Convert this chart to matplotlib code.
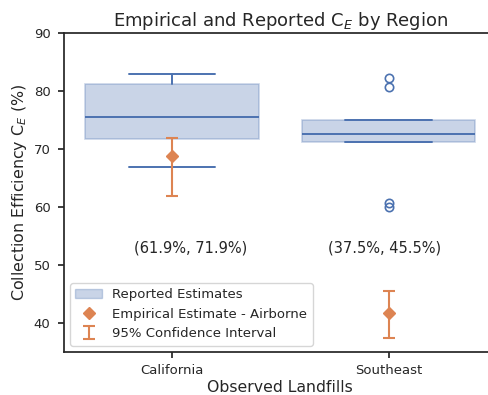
import matplotlib
matplotlib.use("Agg")
import matplotlib.pyplot as plt
from matplotlib.patches import Patch
import seaborn as sns
import numpy as np

sns.set_theme(style="ticks", palette="deep")
plt.rcParams["font.family"] = ["DejaVu Sans"]

# reported estimates (box summary)
regions = ["California", "Southeast"]
q1 = [71.7, 71.3]
median = [75.5, 72.6]
q3 = [81.2, 75.0]
whisker_low = [67.0, 71.3]
whisker_high = [82.9, 75.0]
fliers = [[], [82.2, 80.75, 60.8, 60.1]]

# empirical airborne estimates with 95% CI
empirical = [68.75, 41.8]
ci_low = [61.9, 37.5]
ci_high = [71.9, 45.5]

blue = sns.color_palette("deep")[0]
orange = sns.color_palette("deep")[1]

fig = plt.figure(figsize=(4.89, 3.95), dpi=100)
ax = fig.add_axes([0.13, 0.108, 0.886, 0.808])

stats = []
for i, name in enumerate(regions):
    stats.append(dict(label=name, q1=q1[i], med=median[i], q3=q3[i],
                      whislo=whisker_low[i], whishi=whisker_high[i],
                      fliers=fliers[i]))

pos = np.arange(len(regions))
bp = ax.bxp(stats, positions=pos, widths=0.8, patch_artist=True,
            showfliers=True,
            boxprops=dict(facecolor=blue, edgecolor=blue, linewidth=1.2),
            medianprops=dict(color=blue, linewidth=1.4),
            whiskerprops=dict(color=blue, linewidth=1.4),
            capprops=dict(color=blue, linewidth=1.4),
            flierprops=dict(marker="o", markerfacecolor="none",
                            markeredgecolor=blue, markersize=6,
                            markeredgewidth=1.2))
for box in bp["boxes"]:
    box.set_alpha(0.3)

emp = np.array(empirical)
yerr = np.vstack([emp - np.array(ci_low), np.array(ci_high) - emp])
ci = ax.errorbar(pos, emp, yerr=yerr, fmt="none", ecolor=orange,
                 elinewidth=1.5, capsize=4, capthick=1.5, zorder=4)
dots, = ax.plot(pos, emp, "D", color=orange, markersize=6.5, zorder=5,
                linestyle="none")

# CI labels
text_offsets = [0.085, -0.02]
for i in range(len(regions)):
    ax.text(pos[i] + text_offsets[i], 52.9,
            f"({ci_low[i]:.1f}%, {ci_high[i]:.1f}%)",
            ha="center", va="center", fontsize=10.5, color="#262626")

ax.set_xlim(-0.5, 1.5)
ax.set_ylim(35, 90)
ax.set_yticks([40, 50, 60, 70, 80, 90])
ax.set_xticks(pos)
ax.set_xticklabels(regions)
ax.tick_params(labelsize=9.5, length=4.5)
ax.tick_params(axis="x", pad=4)
ax.tick_params(axis="y", pad=5)
ax.set_xlabel("Observed Landfills", fontsize=11.3, labelpad=2)
ax.set_ylabel("Collection Efficiency C$_E$ (%)", fontsize=11.4, labelpad=3)
ax.set_title("Empirical and Reported C$_E$ by Region", fontsize=13, pad=5)

box_handle = Patch(facecolor=blue, edgecolor=blue, alpha=0.3)
ax.legend([box_handle, dots, ci],
          ["Reported Estimates", "Empirical Estimate - Airborne",
           "95% Confidence Interval"],
          loc="lower left", fontsize=9.5, borderaxespad=0.5)

fig.savefig("out.png", dpi=100)
